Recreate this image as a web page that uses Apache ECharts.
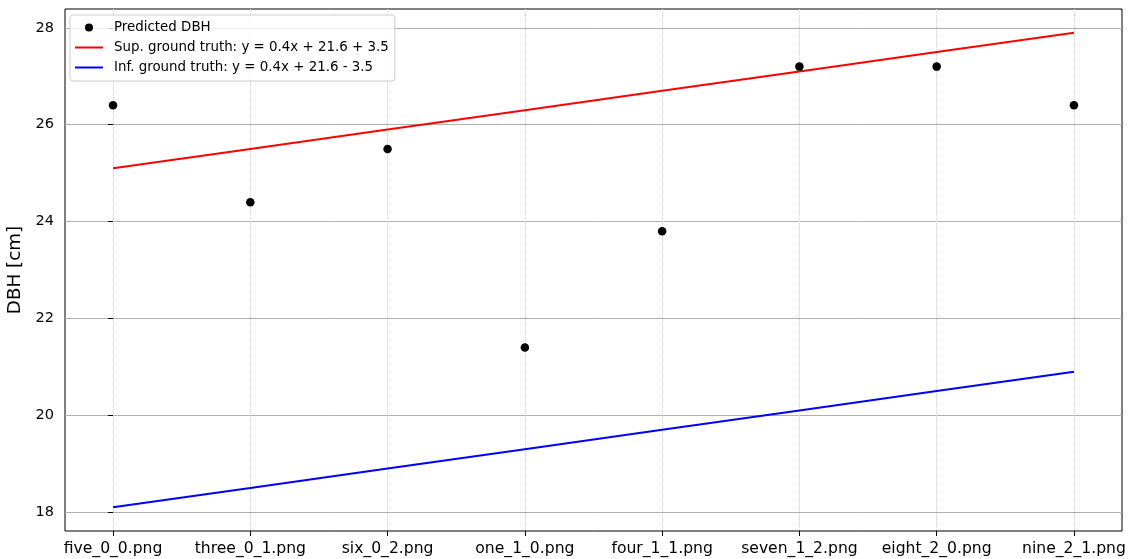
<!DOCTYPE html>
<html>
<head>
<meta charset="utf-8">
<script src="https://cdn.jsdelivr.net/npm/echarts@6/dist/echarts.min.js"></script>
<style>html,body{margin:0;padding:0;background:#fff}#chart{width:1128px;height:559px}</style>
</head>
<body>
<div id="chart"></div>
<script>
const categories = ['five_0_0.png','three_0_1.png','six_0_2.png','one_1_0.png','four_1_1.png','seven_1_2.png','eight_2_0.png','nine_2_1.png'];
const predicted = [26.4, 24.4, 25.5, 21.4, 23.8, 27.2, 27.2, 26.4];
const supTruth = [25.1, 25.5, 25.9, 26.3, 26.7, 27.1, 27.5, 27.9];
const infTruth = [18.1, 18.5, 18.9, 19.3, 19.7, 20.1, 20.5, 20.9];
const yTicks = [18, 20, 22, 24, 26, 28];
const seriesNames = ['Predicted DBH', 'Sup. ground truth: y = 0.4x + 21.6 + 3.5', 'Inf. ground truth: y = 0.4x + 21.6 - 3.5'];

const idx = categories.map((_, i) => i);
const pairs = arr => arr.map((v, i) => [i, v]);
const font = 'DejaVu Sans';
const lineIcon = 'path://M0,0L28,0L28,2L0,2Z';

const chart = echarts.init(document.getElementById('chart'));
chart.setOption({
  animation: false,
  backgroundColor: '#fff',
  grid: { left: 65, right: 6, top: 9, bottom: 28, outerBoundsMode: 'none', containLabel: false, show: true, borderColor: '#000', borderWidth: 1, backgroundColor: '#fff' },
  legend: {
    orient: 'vertical', left: 70, top: 15,
    backgroundColor: 'rgba(255,255,255,0.8)', borderColor: '#cccccc', borderWidth: 1, borderRadius: 3,
    padding: [6, 6, 7, 5], itemWidth: 28, itemHeight: 8, itemGap: 7,
    textStyle: { fontFamily: font, fontSize: 13.4, color: '#000', padding: [0, 0, 0, 6] },
    data: [
      { name: seriesNames[0], icon: 'circle' },
      { name: seriesNames[1], icon: lineIcon },
      { name: seriesNames[2], icon: lineIcon }
    ]
  },
  xAxis: {
    type: 'value', min: -0.35, max: 7.35,
    axisLine: { show: false },
    axisTick: { show: true, customValues: idx, length: 5, lineStyle: { color: '#000', width: 1 } },
    axisLabel: { customValues: idx, formatter: v => categories[Math.round(v)], fontFamily: font, fontSize: 15.6, color: '#000', margin: 10 },
    splitLine: { show: true, customValues: idx, lineStyle: { color: '#d0d0d0', type: [1, 1], width: 1 } }
  },
  yAxis: {
    type: 'value', min: 17.61, max: 28.39,
    name: 'DBH [cm]', nameLocation: 'middle', nameGap: 36,
    nameTextStyle: { fontFamily: font, fontSize: 18.3, color: '#000' },
    axisLine: { show: false },
    axisTick: { show: true, customValues: yTicks, length: 5, lineStyle: { color: '#000', width: 1 } },
    axisLabel: { customValues: yTicks, fontFamily: font, fontSize: 14.5, color: '#000', margin: 11 },
    splitLine: { show: true, customValues: yTicks, lineStyle: { color: '#b0b0b0', width: 1 } }
  },
  series: [
    { name: seriesNames[0], type: 'scatter', data: pairs(predicted), symbol: 'circle', symbolSize: 8.5, itemStyle: { color: '#000', opacity: 1 }, z: 5 },
    { name: seriesNames[1], type: 'line', data: pairs(supTruth), showSymbol: false, symbol: 'none', lineStyle: { color: '#ff0000', width: 2 }, itemStyle: { color: '#ff0000' } },
    { name: seriesNames[2], type: 'line', data: pairs(infTruth), showSymbol: false, symbol: 'none', lineStyle: { color: '#0000ff', width: 2 }, itemStyle: { color: '#0000ff' } }
  ]
});
</script>
</body>
</html>
